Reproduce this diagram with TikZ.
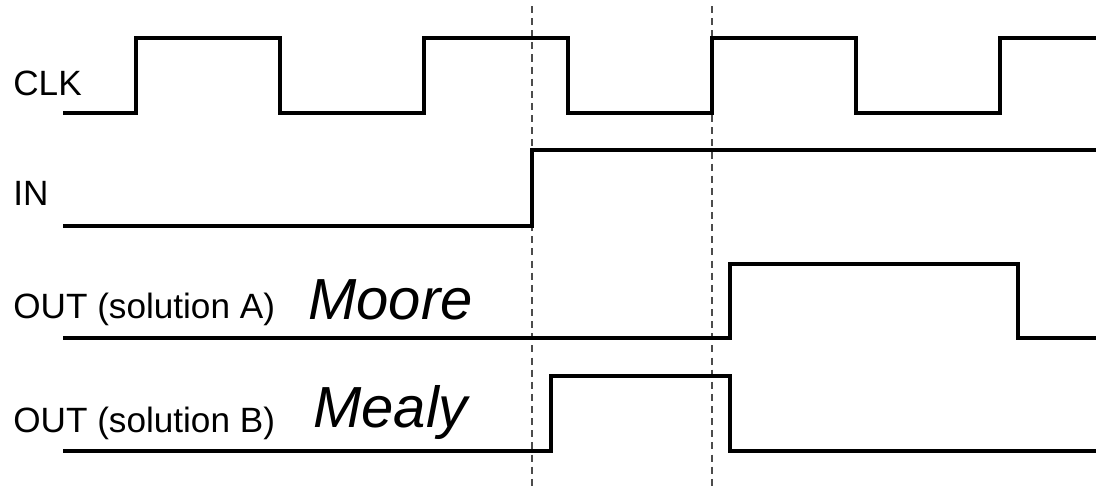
\documentclass[tikz,border=0pt]{standalone}
\usepackage{fontspec}
\setmainfont{Liberation Sans}
\usepackage{tikz}

\begin{document}
\begin{tikzpicture}[x=0.02cm, y=-0.02cm,
    wave/.style={line width=1.9pt, black},
    marker/.style={line width=0.6pt, black!70, dash pattern=on 4pt off 2.9pt},
    signame/.style={anchor=base west, inner sep=0pt, font=\fontsize{20}{24}\selectfont},
    machine/.style={anchor=base west, inner sep=0pt, font=\fontsize{33}{40}\selectfont\itshape}]
  \useasboundingbox (0,0) rectangle (1096,487);

  % signal names
  \node[signame] (clk)  at (13,95)  {CLK};
  \node[signame] (in)   at (13,205) {IN};
  \node[signame] (outa) at (13,318) {OUT (solution A)};
  \node[signame] (outb) at (13,432) {OUT (solution B)};
  \node[machine] (moore) at (308,319) {Moore};
  \node[machine] (mealy) at (313,427) {Mealy};

  % sampling instants
  \coordinate (s1top) at (532,6);   \coordinate (s1bot) at (532,487);
  \coordinate (s2top) at (712,6);   \coordinate (s2bot) at (712,487);
  \draw[marker] (s1top) -- (s1bot);
  \draw[marker] (s2top) -- (s2bot);

  % clock
  \draw[wave] (63,113) -| (136,38) -| (280,113) -| (424,38) -| (568,113)
              -| (712,38) -| (856,113) -| (1000,38) -- (1096,38);

  % input
  \draw[wave] (63,226) -| (532,150) -- (1096,150);

  % output, Moore machine
  \draw[wave] (63,338) -| (730,264) -| (1018,338) -- (1096,338);

  % output, Mealy machine
  \draw[wave] (63,451) -| (551,376) -| (730,451) -- (1096,451);
\end{tikzpicture}
\end{document}
